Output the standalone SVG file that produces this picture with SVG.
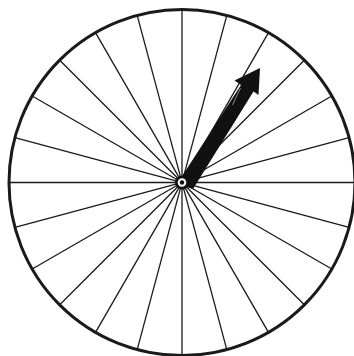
<svg xmlns="http://www.w3.org/2000/svg" width="354" height="356" viewBox="0 0 354 356">
  <style>
    .spoke { stroke: #1a1a1a; stroke-width: 1.3; fill: none; }
    .rim { stroke: #1a1a1a; stroke-width: 3; fill: #ffffff; }
    .ink { fill: #111111; }
  </style>
  <rect width="354" height="356" fill="#ffffff"/>
  <g id="wheel">
    <circle class="rim" cx="182" cy="182.5" r="173"/>
  </g>
  <g id="spokes">
    <line class="spoke" x1="355" y1="182.5" x2="9" y2="182.5"/>
    <line class="spoke" x1="349.1" y1="227.3" x2="14.9" y2="137.7"/>
    <line class="spoke" x1="331.8" y1="269" x2="32.2" y2="96"/>
    <line class="spoke" x1="304.3" y1="304.8" x2="59.7" y2="60.2"/>
    <line class="spoke" x1="268.5" y1="332.3" x2="95.5" y2="32.7"/>
    <line class="spoke" x1="226.8" y1="349.6" x2="137.2" y2="15.4"/>
    <line class="spoke" x1="182" y1="355.5" x2="182" y2="9.5"/>
    <line class="spoke" x1="137.2" y1="349.6" x2="226.8" y2="15.4"/>
    <line class="spoke" x1="95.5" y1="332.3" x2="268.5" y2="32.7"/>
    <line class="spoke" x1="59.7" y1="304.8" x2="304.3" y2="60.2"/>
    <line class="spoke" x1="32.2" y1="269" x2="331.8" y2="96"/>
    <line class="spoke" x1="14.9" y1="227.3" x2="349.1" y2="137.7"/>
  </g>
  <g id="arrow">
    <polygon class="ink" points="177,184 241,85 234.5,80.5 260,68 258.5,95 253.5,91.5 193,189"/>
    <line x1="240.5" y1="88" x2="232.5" y2="105" stroke="#ffffff" stroke-width="0.5"/>
  </g>
  <g id="hub">
    <circle class="ink" cx="182" cy="182.5" r="7"/>
    <circle cx="182" cy="182.5" r="4.3" fill="#ffffff"/>
    <circle class="ink" cx="182" cy="182.5" r="2.2"/>
  </g>
</svg>
